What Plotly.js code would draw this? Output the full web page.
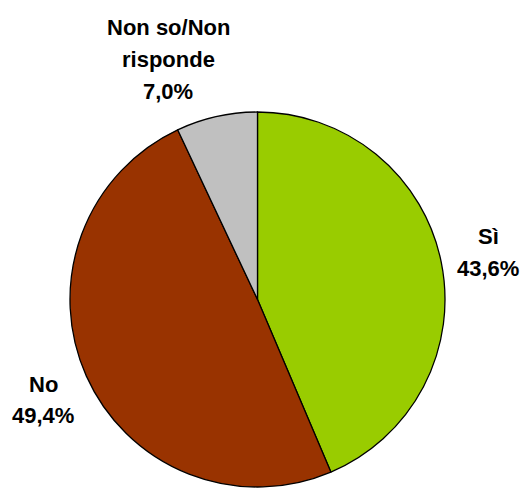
<!DOCTYPE html>
<html>
<head>
<meta charset="utf-8">
<script src="https://cdn.plot.ly/plotly-3.0.1.min.js"></script>
<style>html,body{margin:0;padding:0;background:#fff;}#chart{width:523px;height:488px;}</style>
</head>
<body>
<div id="chart"></div>
<script>
var categories = ["Sì", "No", "Non so/Non risponde"];
var labelLines = [["Sì"], ["No"], ["Non so/Non", "risponde"]];
var values = [43.6, 49.4, 7.0];
var colors = ["#99CC00", "#993300", "#C0C0C0"];

function fmt(v) { return v.toFixed(1).replace(".", ",") + "%"; }

// label anchor positions (pixels) per category: [x, firstLineY, lineSpacing]
var labelPos = [[488, 237, 31.5], [43, 384, 31.5], [168, 28, 31.5]];

var W = 523, H = 488;
var annotations = [];
for (var i = 0; i < categories.length; i++) {
  var lines = labelLines[i].concat([fmt(values[i])]);
  for (var j = 0; j < lines.length; j++) {
    annotations.push({
      text: "<b>" + lines[j] + "</b>",
      x: labelPos[i][0] / W,
      y: 1 - (labelPos[i][1] + j * labelPos[i][2]) / H,
      xref: "paper", yref: "paper",
      xanchor: "center", yanchor: "middle",
      showarrow: false,
      font: {family: "Liberation Sans, Arial, sans-serif", size: 22, color: "#000"}
    });
  }
}

var data = [{
  type: "pie",
  labels: categories,
  values: values,
  sort: false,
  direction: "clockwise",
  rotation: 0,
  textinfo: "none",
  hoverinfo: "label+percent",
  marker: {colors: colors, line: {color: "#000", width: 1.3}},
  domain: {x: [70 / W, 445 / W], y: [1 - 487 / H, 1 - 112 / H]},
  showlegend: false
}];

var layout = {
  width: W, height: H,
  margin: {l: 0, r: 0, t: 0, b: 0},
  paper_bgcolor: "#fff",
  plot_bgcolor: "#fff",
  showlegend: false,
  annotations: annotations
};

Plotly.newPlot("chart", data, layout, {displayModeBar: false, staticPlot: true});
</script>
</body>
</html>
